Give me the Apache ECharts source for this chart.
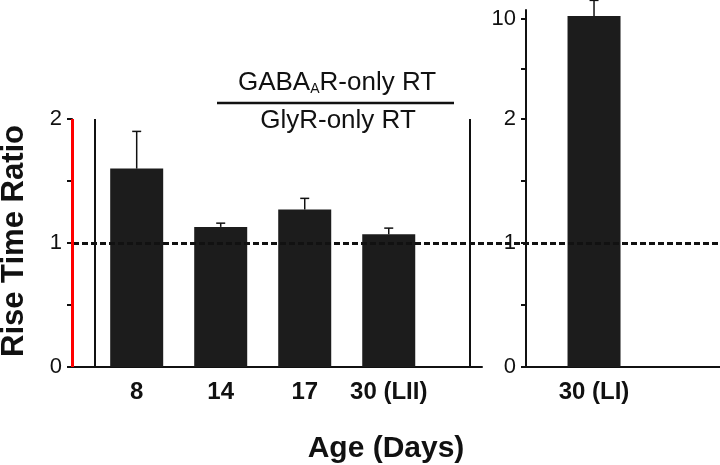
<!DOCTYPE html>
<html>
<head>
<meta charset="utf-8">
<script src="https://cdn.jsdelivr.net/npm/echarts@6/dist/echarts.min.js"></script>
<style>html,body{margin:0;padding:0;background:#fff}#c{width:720px;height:465px}</style>
</head>
<body>
<div id="c"></div>
<script>
// ---- data ----
const categories = ['8', '14', '17', '30 (LII)'];
const ratios = [1.6, 1.13, 1.27, 1.07];
const errors = [0.3, 0.03, 0.09, 0.05];
const categoriesRight = ['30 (LI)'];
const ratiosRight = [10.24];
const errorsRight = [1.25];
const refValue = 1;
const leftTicks = [0, 1, 2];
const upperTicks = [6, 10];
const upperLabels = [10];

const FONT = '"Liberation Sans", Arial, Helvetica, sans-serif';
const INK = '#111';

const chart = echarts.init(document.getElementById('c'), null, {renderer: 'canvas'});

function errRender(params, api) {
  const x = api.value(0), y = api.value(1), e = api.value(2);
  const p0 = api.coord([x, y]);
  const p1 = api.coord([x, y + e]);
  const st = {stroke: INK, lineWidth: 1.5};
  return {type: 'group', children: [
    {type: 'line', shape: {x1: p0[0], y1: p0[1], x2: p1[0], y2: p1[1]}, style: st},
    {type: 'line', shape: {x1: p1[0] - 4.5, y1: p1[1], x2: p1[0] + 4.5, y2: p1[1]}, style: st}
  ]};
}

const leftPos = categories.map((c, i) => i + 1);
const rightPos = categoriesRight.map((c, i) => i + 1);

const yAxisBase = {
  type: 'value', min: 0, max: 2, interval: 0.5, position: 'left',
  axisLine: {show: true, lineStyle: {color: INK, width: 2}},
  axisTick: {show: true, length: 5, lineStyle: {color: INK, width: 2}},
  splitLine: {show: false},
  axisLabel: {color: INK, fontFamily: FONT, fontSize: 22, margin: 10,
    formatter: v => leftTicks.includes(v) ? String(v) : ''}
};

const option = {
  animation: false,
  backgroundColor: '#fff',
  grid: [
    {left: 72, right: 238, top: 119, bottom: 98},
    {left: 526, right: 0, top: 119, bottom: 98},
    {left: 526, right: 0, top: 10, height: 109},
    {left: 73, right: 0, top: 119, bottom: 98}
  ],
  xAxis: [
    {gridIndex: 0, type: 'value', min: 0.23, max: 5.11,
      axisLine: {show: true, onZero: false, lineStyle: {color: INK, width: 2}},
      axisTick: {show: false}, splitLine: {show: false},
      axisLabel: {customValues: leftPos, formatter: v => categories[Math.round(v) - 1] || '',
        color: INK, fontFamily: FONT, fontWeight: 'bold', fontSize: 24, margin: 13}},
    {gridIndex: 1, type: 'value', min: 0.19, max: 2.5,
      axisLine: {show: true, onZero: false, lineStyle: {color: INK, width: 2}},
      axisTick: {show: false}, splitLine: {show: false},
      axisLabel: {customValues: rightPos, formatter: v => categoriesRight[Math.round(v) - 1] || '',
        color: INK, fontFamily: FONT, fontWeight: 'bold', fontSize: 24, margin: 13}},
    {gridIndex: 2, type: 'value', min: 0.19, max: 2.5, show: false},
    {gridIndex: 3, type: 'value', min: 0, max: 1, show: false}
  ],
  yAxis: [
    Object.assign({gridIndex: 0}, yAxisBase),
    Object.assign({gridIndex: 1}, yAxisBase),
    {gridIndex: 2, type: 'value', min: 2, max: 10.72, position: 'left',
      axisLine: {show: true, lineStyle: {color: INK, width: 2}},
      axisTick: {show: true, length: 5, customValues: upperTicks, lineStyle: {color: INK, width: 2}},
      splitLine: {show: false},
      axisLabel: {customValues: upperLabels, color: INK, fontFamily: FONT, fontSize: 22, margin: 10}},
    {gridIndex: 3, type: 'value', min: 0, max: 2, show: false}
  ],
  series: [
    {type: 'line', xAxisIndex: 3, yAxisIndex: 3, data: [], silent: true, z: 1,
      markLine: {silent: true, symbol: 'none', label: {show: false},
        lineStyle: {color: INK, width: 3, type: [6, 3]},
        data: [{yAxis: refValue}]}},
    {type: 'bar', xAxisIndex: 0, yAxisIndex: 0, barWidth: 53, z: 3,
      itemStyle: {color: '#1c1c1c'}, data: ratios.map((v, i) => [leftPos[i], v])},
    {type: 'custom', xAxisIndex: 0, yAxisIndex: 0, z: 4, renderItem: errRender,
      data: ratios.map((v, i) => [leftPos[i], v, errors[i]])},
    {type: 'bar', xAxisIndex: 1, yAxisIndex: 1, barWidth: 53, z: 3, clip: true,
      itemStyle: {color: '#1c1c1c'}, data: ratiosRight.map((v, i) => [rightPos[i], v])},
    {type: 'bar', xAxisIndex: 2, yAxisIndex: 2, barWidth: 53, z: 3, clip: true,
      itemStyle: {color: '#1c1c1c'}, data: ratiosRight.map((v, i) => [rightPos[i], v])},
    {type: 'custom', xAxisIndex: 2, yAxisIndex: 2, z: 4, clip: false, renderItem: errRender,
      data: ratiosRight.map((v, i) => [rightPos[i], v, errorsRight[i]])}
  ],
  graphic: [
    {type: 'rect', zlevel: 1, shape: {x: 71, y: 119, width: 3, height: 248}, style: {fill: 'red'}},
    {type: 'rect', shape: {x: 94, y: 119, width: 2, height: 248}, style: {fill: '#111'}},
    {type: 'rect', zlevel: 1, shape: {x: 469, y: 119, width: 2, height: 248}, style: {fill: '#111'}},
    {type: 'rect', shape: {x: 525, y: 10, width: 2, height: 357}, style: {fill: 'blue'}},
    {type: 'text', x: 14, y: 241, rotation: Math.PI / 2,
      style: {text: 'Rise Time Ratio', font: 'bold 31px ' + FONT, fill: INK, align: 'center', verticalAlign: 'middle'}},
    {type: 'text', x: 386, y: 449,
      style: {text: 'Age (Days)', font: 'bold 30px ' + FONT, fill: INK, align: 'center', verticalAlign: 'middle'}},
    {type: 'text', x: 337, y: 83,
      style: {text: 'GABA{s|A}R-only RT', fill: INK, align: 'center', verticalAlign: 'middle',
        font: '26px ' + FONT,
        rich: {s: {fontSize: 14, fontFamily: FONT, fill: INK, verticalAlign: 'bottom', padding: [13, 0, 0, 0]}}}},
    {type: 'line', shape: {x1: 217, y1: 103, x2: 454, y2: 103}, style: {stroke: INK, lineWidth: 2.5}},
    {type: 'text', x: 338, y: 121,
      style: {text: 'GlyR-only RT', fill: INK, align: 'center', verticalAlign: 'middle', font: '26px ' + FONT}}
  ]
};
chart.setOption(option);
</script>
</body>
</html>
